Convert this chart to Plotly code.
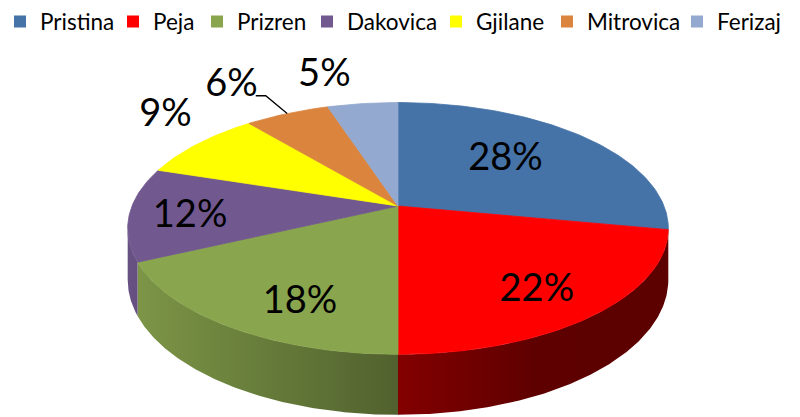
import numpy as np
import plotly.graph_objects as go

# ---------------- data ----------------
cities = ["Pristina", "Peja", "Prizren", "Dakovica", "Gjilane", "Mitrovica", "Ferizaj"]
shares = [28, 22, 18, 12, 9, 6, 5]
labels = ["28%", "22%", "18%", "12%", "9%", "6%", "5%"]

# ---------------- style / layout constants ----------------
colors = ["#4572A7", "#FF0000", "#89A54E", "#71588F", "#FFFF00", "#DB843D", "#93A9CF"]
side_tone = [0.87, 0.87, 1.0, 1.0, 1.0, 1.0, 1.0]
label_radius = [0.58, 0.76, 0.72, 0.78, 1.25, 1.30, 1.25]
label_shift = [(-4, -3), (-5, 6), (17, 14), (1, 5), (12, -13), (-28, -4), (-31, -6)]
legend_widths = [68, 39, 65, 84, 66, 85, 60]
FONT = "Lato"

W, H = 800, 417
CX, CY = 398.0, 205.0      # projected pie centre
RX, RY = 266.0, 122.5      # projected radii
K = 0.178                  # perspective strength
DEPTH = 50.0               # pie thickness


def proj(theta_deg, r=1.0):
    t = np.radians(np.asarray(theta_deg, dtype=float))
    u = r * np.sin(t)
    v = -r * np.cos(t)
    w = 1 - K * v
    return CX + RX * u / w, CY + RY * v / w, w


def shade(hex_color, f):
    h = hex_color.lstrip("#")
    r, g, b = (int(h[i:i + 2], 16) for i in (0, 2, 4))
    return "rgb(%d,%d,%d)" % (round(r * f), round(g * f), round(b * f))


def side_factor(x):
    return max(0.42, 0.9 - 0.0012 * (x - 140.0))


# silhouette angles (outermost left / right points of the projected rim)
fine = np.linspace(0, 360, 36001)
fx, _, _ = proj(fine)
theta_r = fine[np.argmax(fx)]
theta_l = fine[np.argmin(fx)]

total = float(sum(shares))
bounds = np.concatenate([[0.0], np.cumsum(shares) / total * 360.0])

fig = go.Figure()

# legend entries
for i, name in enumerate(cities):
    fig.add_trace(go.Scatter(
        x=[None], y=[None], mode="markers", name=name,
        marker=dict(symbol="square", size=12, color=colors[i]),
        legendwidth=legend_widths[i], showlegend=True, hoverinfo="skip"))

# side walls (front half) with horizontal shading
for i in range(len(shares)):
    a0, a1 = bounds[i], bounds[i + 1]
    s0, s1 = max(a0, theta_r), min(a1, theta_l)
    if s1 <= s0:
        continue
    ang = np.linspace(s0, s1, max(4, int((s1 - s0) / 0.5)))
    xt, yt, wt = proj(ang)
    yb = yt + DEPTH / wt
    xs = np.concatenate([xt, xt[::-1], xt[:1]])
    ys = np.concatenate([yt, yb[::-1], yt[:1]])
    xmin, xmax = float(xs.min()), float(xs.max())
    stops = np.linspace(0, 1, 7)
    cscale = [[float(s), shade(colors[i], side_tone[i] * side_factor(xmin + s * (xmax - xmin)))]
              for s in stops]
    cm = cscale[3][1]
    fig.add_trace(go.Scatter(
        x=xs, y=ys, mode="lines", fill="toself",
        fillgradient=dict(type="horizontal", colorscale=cscale, start=xmin, stop=xmax),
        line=dict(color=cm, width=0), showlegend=False, hoverinfo="skip"))

# top faces
for i in range(len(shares)):
    a0, a1 = bounds[i], bounds[i + 1]
    n = max(8, int((a1 - a0) / 1.0))
    ang = np.linspace(a0, a1, n)
    xt, yt, _ = proj(ang)
    xs = np.concatenate([[CX], xt, [CX]])
    ys = np.concatenate([[CY], yt, [CY]])
    fig.add_trace(go.Scatter(
        x=xs, y=ys, mode="lines", fill="toself", fillcolor=colors[i],
        line=dict(color=colors[i], width=0.8), showlegend=False,
        name=cities[i], hoverinfo="skip"))

# leader line for the Mitrovica label
mid6 = (bounds[5] + bounds[6]) / 2
x1, y1, _ = proj(mid6, 1.0)
x2, y2, _ = proj(mid6, 1.23)
fig.add_trace(go.Scatter(
    x=[x1, x2, x2 - 10], y=[y1, y2, y2], mode="lines",
    line=dict(color="black", width=1.3), showlegend=False, hoverinfo="skip"))

# data labels
lx, ly = [], []
for i in range(len(shares)):
    mid = (bounds[i] + bounds[i + 1]) / 2
    x, y, _ = proj(mid, label_radius[i])
    lx.append(float(x) + label_shift[i][0])
    ly.append(float(y) + label_shift[i][1])
fig.add_trace(go.Scatter(
    x=lx, y=ly, mode="text", text=labels, textposition="middle center",
    textfont=dict(family=FONT, size=38, color="black"),
    showlegend=False, hoverinfo="skip"))

fig.update_layout(
    width=W, height=H,
    margin=dict(l=0, r=0, t=0, b=0),
    paper_bgcolor="white", plot_bgcolor="white",
    xaxis=dict(range=[0, W], visible=False, fixedrange=True),
    yaxis=dict(range=[H, 0], visible=False, fixedrange=True),
    showlegend=True,
    legend=dict(orientation="h", x=0, y=1.004, xanchor="left", yanchor="top",
                font=dict(family=FONT, size=22.5, color="black"),
                bgcolor="rgba(0,0,0,0)", borderwidth=0, itemsizing="trace"),
    font=dict(family=FONT),
)

fig.write_html("out.html")
